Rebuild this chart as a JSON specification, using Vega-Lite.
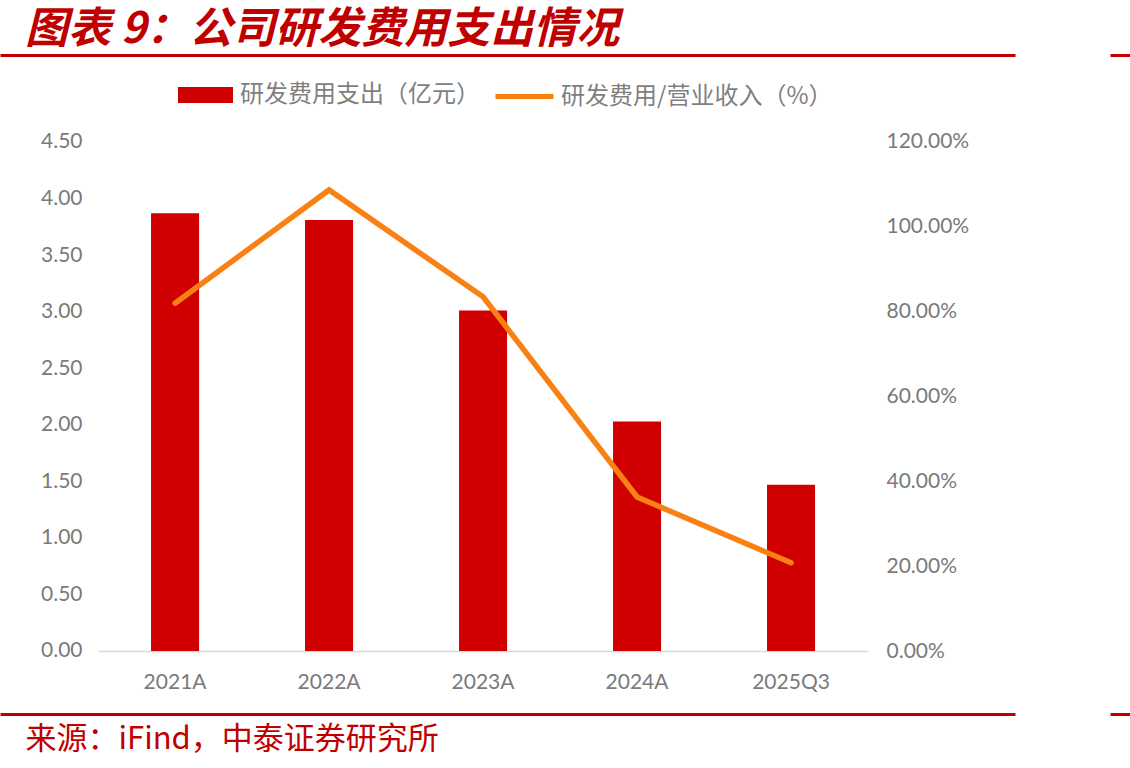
{
  "$schema": "https://vega.github.io/schema/vega-lite/v6.json",
  "width": 1130,
  "height": 659,
  "autosize": {"type": "none"},
  "padding": {"top": 55, "left": 0, "right": 0, "bottom": 54},
  "background": "white",
  "title": {
    "text": "图表 9：公司研发费用支出情况",
    "anchor": "start",
    "frame": "group",
    "dx": 25,
    "dy": 42,
    "offset": 11,
    "baseline": "alphabetic",
    "font": "Noto Sans CJK SC",
    "fontSize": 43,
    "fontWeight": "bold",
    "fontStyle": "italic",
    "color": "#c00000"
  },
  "data": {
    "values": [
      {"year": "2021A", "rd": 3.87, "ratio": 82.0},
      {"year": "2022A", "rd": 3.81, "ratio": 108.7},
      {"year": "2023A", "rd": 3.01, "ratio": 83.5},
      {"year": "2024A", "rd": 2.03, "ratio": 36.3},
      {"year": "2025Q3", "rd": 1.47, "ratio": 20.8}
    ]
  },
  "encoding": {
    "x": {
      "field": "year",
      "type": "nominal",
      "sort": null,
      "scale": {
        "domain": ["2021A", "2022A", "2023A", "2024A", "2025Q3", "pad1", "pad2"],
        "paddingInner": 0.688,
        "paddingOuter": 0.513,
        "align": 0.956
      },
      "axis": {
        "orient": "bottom",
        "offset": -63,
        "values": ["2021A", "2022A", "2023A", "2024A", "2025Q3"],
        "labelAngle": 0,
        "ticks": false,
        "domain": false,
        "labelFont": "Lato",
        "labelFontSize": 21,
        "labelColor": "#7a7a7a",
        "labelPadding": 20,
        "title": "来源：iFind，中泰证券研究所",
        "titleFont": "Noto Sans CJK SC",
        "titleFontSize": 31,
        "titleFontWeight": "normal",
        "titleColor": "#c00000",
        "titleAlign": "left",
        "titleAnchor": "start",
        "titleBaseline": "alphabetic",
        "titleX": 25,
        "titleY": 97
      }
    }
  },
  "layer": [
    {
      "mark": {"type": "bar", "color": "#d10000"},
      "encoding": {
        "y": {
          "field": "rd",
          "type": "quantitative",
          "scale": {"domain": [-0.557, 5.269], "zero": false, "nice": false},
          "axis": {
            "orient": "left",
            "offset": -98,
            "title": null,
            "domain": false,
            "ticks": false,
            "values": [-0.557, 0, 0.5, 1, 1.5, 2, 2.5, 3, 3.5, 4, 4.5, 5.269],
            "labelExpr": "(datum.value < -0.1 || datum.value > 5) ? '' : format(datum.value, '.2f')",
            "labelFont": "Lato",
            "labelFontSize": 21,
            "labelColor": "#7a7a7a",
            "labelPadding": 16,
            "grid": true,
            "gridWidth": {
              "condition": {"test": "datum.value < -0.1 || datum.value > 5", "value": 3},
              "value": 1.5
            },
            "gridDash": {
              "condition": {"test": "datum.value < -0.1 || datum.value > 5", "value": [1015, 95, 20, 3000]},
              "value": [0, 98, 770, 3000]
            },
            "gridColor": {
              "condition": [
                {"test": "datum.value < -0.1 || datum.value > 5", "value": "#c00000"},
                {"test": "datum.value == 0", "value": "#d9d9d9"}
              ],
              "value": "rgba(0,0,0,0)"
            }
          }
        },
        "fill": {
          "datum": "研发费用支出（亿元）",
          "scale": {"range": ["#d10000"]},
          "legend": {
            "orient": "none",
            "legendX": 178,
            "legendY": 12.5,
            "title": null,
            "padding": 0,
            "symbolType": "M-1,-0.29H1V0.29H-1Z",
            "symbolSize": 3025,
            "symbolStrokeWidth": 0,
            "labelOffset": 7,
            "labelFont": "Noto Sans CJK SC",
            "labelFontSize": 24,
            "labelColor": "#7f7f7f",
            "labelLimit": 400
          }
        }
      }
    },
    {
      "mark": {"type": "line", "strokeWidth": 5.5, "strokeCap": "round"},
      "encoding": {
        "y": {
          "field": "ratio",
          "type": "quantitative",
          "scale": {"domain": [-14.85, 140.51], "zero": false, "nice": false},
          "axis": {
            "orient": "right",
            "offset": -262,
            "title": null,
            "domain": false,
            "ticks": false,
            "grid": false,
            "values": [0, 20, 40, 60, 80, 100, 120],
            "labelExpr": "format(datum.value, '.2f') + '%'",
            "labelFont": "Lato",
            "labelFontSize": 21,
            "labelColor": "#7a7a7a",
            "labelPadding": 18
          }
        },
        "stroke": {
          "datum": "研发费用/营业收入（%）",
          "scale": {"range": ["#f98013"]},
          "legend": {
            "orient": "none",
            "legendX": 493,
            "legendY": 10,
            "title": null,
            "padding": 0,
            "symbolType": "stroke",
            "symbolSize": 3364,
            "symbolStrokeWidth": 5,
            "labelOffset": 5,
            "labelFont": "Noto Sans CJK SC",
            "labelFontSize": 24,
            "labelColor": "#7f7f7f",
            "labelLimit": 400
          }
        }
      }
    }
  ],
  "resolve": {"scale": {"y": "independent", "fill": "independent", "stroke": "independent"}},
  "config": {"view": {"stroke": null}}
}
